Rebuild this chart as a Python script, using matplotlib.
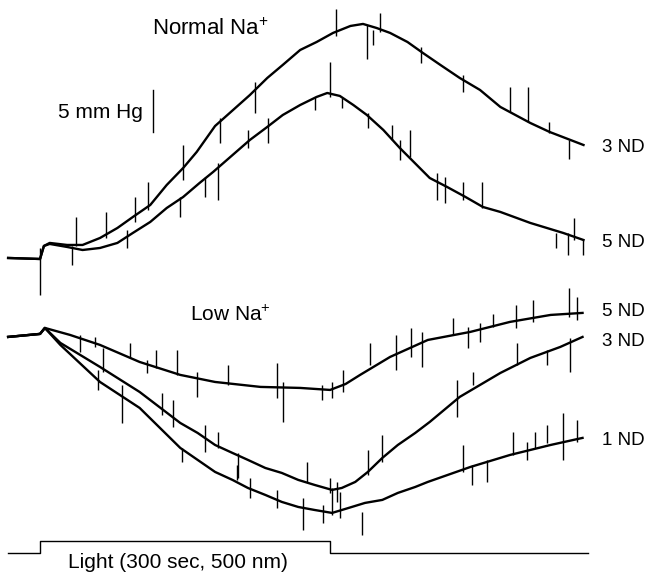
import numpy as np
import matplotlib
matplotlib.use("Agg")
from matplotlib import pyplot as plt

plt.rcParams['font.family'] = ['Liberation Sans', 'DejaVu Sans']
plt.rcParams['mathtext.fontset'] = 'custom'
plt.rcParams['mathtext.rm'] = 'Liberation Sans'
plt.rcParams['mathtext.it'] = 'Liberation Sans'

# time in sec (light on at 0), pressure change in mm Hg
# --- Normal Na+ ---
t_n3 = [-33, 0, 4, 10, 28, 44, 62, 80, 96, 114, 131, 148, 162, 181, 217, 235, 251, 269, 286,
        303, 321, 334, 348, 362, 380, 396, 414, 434, 455, 476, 507, 527, 562]
p_n3 = [0, -0.12, 1.43, 1.79, 1.55, 1.55, 2.38, 3.57, 4.88, 6.31, 8.69, 10.71, 12.62, 15.71,
        19.4, 21.43, 22.98, 24.76, 25.71, 26.79, 27.62, 27.86, 27.38, 26.79, 25.71, 24.4,
        22.98, 21.43, 20.0, 17.98, 16.07, 15.0, 13.45]

t_n5 = [-33, 0, 4, 10, 28, 44, 62, 80, 96, 114, 131, 148, 165, 179, 217, 235, 251, 269, 286,
        297, 310, 324, 338, 355, 372, 403, 421, 440, 458, 476, 507, 541, 562]
p_n5 = [0, -0.12, 1.43, 1.67, 1.31, 0.95, 1.19, 1.79, 2.98, 4.29, 5.95, 7.26, 8.93, 10.24,
        14.05, 15.6, 17.02, 18.21, 19.17, 19.64, 19.29, 18.21, 17.02, 15.24, 13.1, 9.52, 8.45,
        7.26, 6.07, 5.48, 4.17, 2.98, 2.14]

# --- Low Na+ ---
t_l5 = [-33, 0, 5, 31, 62, 103, 145, 181, 228, 269, 300, 316, 331, 362, 401, 445, 486, 528, 561]
p_l5 = [0, 0.36, 1.07, 0.24, -0.95, -2.98, -4.52, -5.36, -5.95, -6.07, -6.31, -5.6, -4.52,
        -2.38, -0.36, 0.6, 1.79, 2.62, 2.86]

t_l3 = [-33, 0, 5, 21, 62, 103, 145, 163, 181, 199, 215, 233, 250, 267, 284, 302, 312, 326,
        339, 354, 370, 388, 403, 434, 476, 507, 538, 561]
p_l3 = [0, 0.36, 1.07, -0.71, -3.57, -6.55, -10.24, -11.43, -12.86, -13.81, -14.64, -15.6,
        -16.19, -17.02, -17.62, -18.21, -17.98, -17.26, -16.07, -14.4, -12.86, -11.43, -10.12,
        -7.14, -4.29, -2.5, -1.19, 0.0]

t_l1 = [-33, 0, 5, 21, 62, 103, 145, 181, 199, 215, 233, 250, 267, 284, 302, 319, 336, 354,
        370, 388, 401, 445, 486, 528, 561]
p_l1 = [0, 0.36, 1.07, -0.95, -5.36, -8.45, -13.21, -16.07, -17.02, -17.98, -18.81, -19.64,
        -20.24, -20.6, -20.95, -20.36, -19.76, -19.4, -18.57, -17.86, -17.26, -15.48, -14.05,
        -12.86, -12.02]

# artefact spikes: time, top, bottom (mm Hg)
spk_n3_t = [0, 33, 37, 68, 98, 112, 148, 186, 222, 306, 338, 344, 352, 394, 437, 486, 505, 526, 547]
spk_n3_hi = [1.19, 1.43, 4.88, 5.48, 7.26, 9.05, 13.45, 16.67, 20.95, 29.64, 27.74, 27.14,
             29.17, 25.12, 21.79, 20.36, 20.36, 16.19, 14.05]
spk_n3_lo = [-4.4, -0.83, 1.43, 2.38, 4.29, 5.71, 9.29, 13.69, 17.26, 26.43, 23.69, 25.36,
             26.9, 23.21, 19.76, 17.38, 16.19, 14.88, 11.79]

spk_n5_t = [90, 145, 171, 184, 215, 236, 284, 300, 312, 339, 364, 372, 383, 411, 419, 437, 457,
            534, 546, 552, 562]
spk_n5_hi = [3.33, 7.26, 9.64, 11.31, 15.24, 16.67, 19.17, 23.33, 19.05, 17.26, 15.83, 14.05,
             15.24, 10.12, 9.64, 9.05, 9.05, 2.98, 2.98, 4.76, 2.14]
spk_n5_lo = [1.19, 4.88, 7.26, 6.9, 13.1, 13.69, 17.62, 19.17, 17.86, 15.48, 14.05, 11.67,
             12.02, 6.9, 6.55, 6.9, 5.95, 1.19, 0.36, 2.14, 0.36]

spk_l5_t = [41, 57, 93, 111, 120, 142, 162, 194, 245, 251, 292, 302, 313, 341, 368, 384, 395,
            427, 443, 455, 468, 492, 510, 547, 555]
spk_l5_hi = [0.24, 0, -0.71, -2.74, -1.55, -1.55, -4.17, -3.33, -3.1, -5.36, -5.71, -5.36,
             -3.93, -0.71, 0.24, 1.07, 0.6, 2.26, 1.19, 1.67, 2.74, 3.81, 4.4, 5.83, 4.76]
spk_l5_lo = [-1.79, -1.19, -2.5, -4.29, -3.69, -4.52, -7.14, -5.71, -7.26, -10.12, -7.5, -7.26,
             -6.55, -3.33, -3.93, -2.38, -3.57, 0.24, -1.31, -0.6, 1.19, 1.07, 1.79, 2.38, 2.02]

spk_l3_t = [65, 126, 138, 171, 184, 205, 276, 300, 307, 339, 354, 431, 448, 493, 524, 548]
spk_l3_hi = [-1.31, -6.67, -7.5, -10.48, -11.31, -13.81, -14.88, -16.79, -17.26, -13.45,
             -11.67, -5.12, -4.17, -0.71, -1.55, -0.12]
spk_l3_lo = [-4.17, -9.29, -10.71, -13.69, -13.21, -16.79, -17.26, -18.57, -19.64, -16.43,
             -14.88, -9.52, -5.71, -3.33, -3.33, -4.17]

spk_l1_t = [60, 85, 147, 204, 217, 245, 272, 293, 302, 310, 333, 437, 447, 462, 489, 504, 512,
            524, 541, 555]
spk_l1_hi = [-3.93, -5.71, -13.21, -15.24, -16.79, -18.21, -19.17, -20.0, -17.98, -18.45,
             -20.83, -12.86, -15.24, -14.64, -11.31, -12.5, -11.31, -10.48, -9.05, -9.88]
spk_l1_lo = [-6.31, -10.24, -14.88, -17.02, -19.17, -20.36, -22.98, -22.14, -21.19, -21.55,
             -23.57, -16.07, -17.62, -17.26, -14.05, -14.64, -13.21, -12.62, -14.64, -12.5]

# light stimulus
light_t = [-33, 0, 0, 300, 300, 567]
light_on = [0, 0, 1, 1, 0, 0]

low_offset = -9.4      # vertical shift of the Low Na+ group
light_base = -35.1
light_step = 1.4

fig = plt.figure(figsize=(6.45, 5.75), dpi=100)
ax = fig.add_axes([0, 0, 1, 1])
ax.set_xlim(-41.4, 625.6)
ax.set_ylim(-37.74, 30.71)
ax.axis('off')

lw = 1.7
slw = 1.0
ax.plot(t_n3, p_n3, color='k', lw=lw, solid_joinstyle='round')
ax.plot(t_n5, p_n5, color='k', lw=lw, solid_joinstyle='round')
ax.vlines(spk_n3_t, spk_n3_lo, spk_n3_hi, color='k', lw=slw)
ax.vlines(spk_n5_t, spk_n5_lo, spk_n5_hi, color='k', lw=slw)

for tt, pp in [(t_l5, p_l5), (t_l3, p_l3), (t_l1, p_l1)]:
    ax.plot(tt, np.array(pp) + low_offset, color='k', lw=lw, solid_joinstyle='round')
for st, lo, hi in [(spk_l5_t, spk_l5_lo, spk_l5_hi), (spk_l3_t, spk_l3_lo, spk_l3_hi),
                   (spk_l1_t, spk_l1_lo, spk_l1_hi)]:
    ax.vlines(st, np.array(lo) + low_offset, np.array(hi) + low_offset, color='k', lw=slw)

ax.plot(light_t, light_base + light_step*np.array(light_on), color='k', lw=1.0)

# scale bar 5 mm Hg
ax.plot([117, 117], [15.0, 20.0], color='k', lw=1.0)
ax.text(106, 17.3, '5 mm Hg', fontsize=15, ha='right', va='center')

ax.text(116, 27.2, 'Normal Na$^{+}$', fontsize=16, ha='left', va='center')
ax.text(155, -6.8, 'Low Na$^{+}$', fontsize=15, ha='left', va='center')
ax.text(581, 13.1, '3 ND', fontsize=13.5, ha='left', va='center')
ax.text(581, 1.9, '5 ND', fontsize=13.5, ha='left', va='center')
ax.text(581, -6.4, '5 ND', fontsize=13.5, ha='left', va='center')
ax.text(581, -10.0, '3 ND', fontsize=13.5, ha='left', va='center')
ax.text(581, -21.7, '1 ND', fontsize=13.5, ha='left', va='center')
ax.text(29, -36.2, 'Light (300 sec, 500 nm)', fontsize=15, ha='left', va='center')

fig.savefig('out.png', dpi=100)
